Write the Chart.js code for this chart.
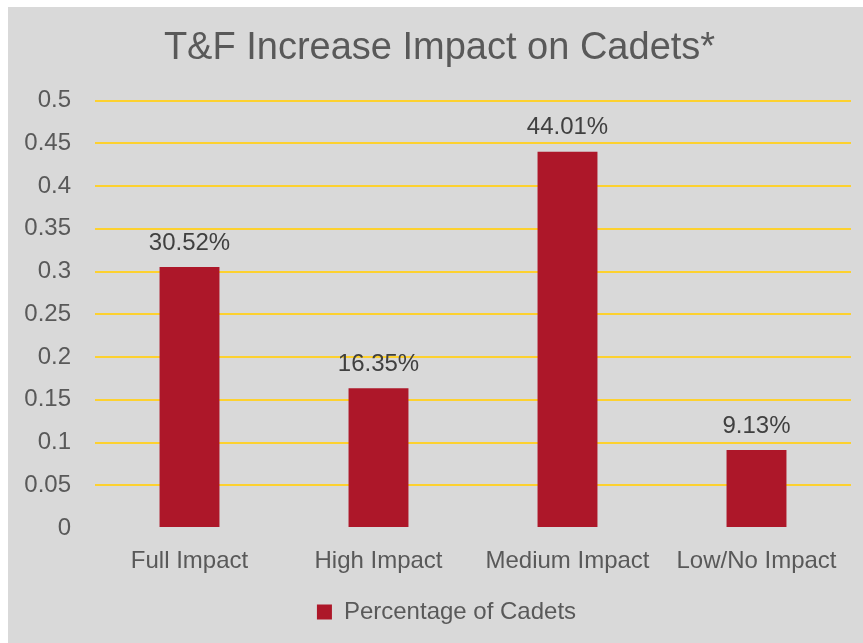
<!DOCTYPE html>
<html>
<head>
<meta charset="utf-8">
<script src="https://cdn.jsdelivr.net/npm/chart.js@4/dist/chart.umd.min.js"></script>
<style>
  html, body { margin: 0; padding: 0; background: #ffffff; }
  #box {
    position: absolute;
    left: 8px;
    top: 7px;
    width: 855px;
    height: 636px;
    background: #d9d9d9;
  }
</style>
</head>
<body>
<div id="box"><canvas id="chart-bars" width="855" height="636"></canvas></div>
<script>
// chart data
const categories = ["Full Impact", "High Impact", "Medium Impact", "Low/No Impact"];
const cadetShares = [0.3052, 0.1635, 0.4401, 0.0913];
const shareLabels = ["30.52%", "16.35%", "44.01%", "9.13%"];
const seriesName = "Percentage of Cadets";
const chartTitle = "T&F Increase Impact on Cadets*";

const baseFont = "'Liberation Sans', Arial, sans-serif";

// draws the value text above each bar
const barLabels = {
  id: "barLabels",
  afterDatasetsDraw(chart) {
    const ctx = chart.ctx;
    const meta = chart.getDatasetMeta(0);
    ctx.save();
    ctx.font = "24px " + baseFont;
    ctx.fillStyle = "#404040";
    ctx.textAlign = "center";
    ctx.textBaseline = "middle";
    meta.data.forEach((bar, i) => {
      ctx.fillText(shareLabels[i], bar.x, bar.y - 24);
    });
    ctx.restore();
  },
};

// title and legend sit a bit right of the canvas centre in the original
const nudgeBlocks = {
  id: "nudgeBlocks",
  afterLayout(chart) {
    chart.titleBlock.left += 20;
    chart.legend.left += 34;
  },
};

var ctx = document.getElementById("chart-bars").getContext("2d");
var chart1 = new Chart(ctx, {
  type: "bar",
  plugins: [barLabels, nudgeBlocks],
  data: {
    labels: categories,
    datasets: [
      {
        label: seriesName,
        data: cadetShares,
        backgroundColor: "#ad1729",
        borderWidth: 0,
        barPercentage: 0.317,
        categoryPercentage: 1,
      },
    ],
  },
  options: {
    responsive: false,
    animation: false,
    layout: {
      padding: { left: 0, right: 12, top: 0, bottom: 9 },
    },
    plugins: {
      title: {
        display: true,
        text: chartTitle,
        color: "#595959",
        font: { size: 38, family: baseFont, weight: "normal" },
        padding: { top: 19, bottom: 29 },
      },
      legend: {
        display: true,
        position: "bottom",
        labels: {
          boxWidth: 15,
          boxHeight: 15,
          padding: 10,
          color: "#595959",
          font: { size: 24, family: baseFont },
        },
      },
      tooltip: { enabled: false },
    },
    scales: {
      y: {
        min: 0,
        max: 0.5,
        afterFit(scale) {
          scale.width = 87;
        },
        border: { display: false },
        grid: {
          drawTicks: false,
          lineWidth: 2,
          color: (c) => (c.tick && c.tick.value === 0 ? "rgba(0,0,0,0)" : "#fdd12f"),
        },
        ticks: {
          stepSize: 0.05,
          padding: 24,
          color: "#595959",
          font: { size: 24, family: baseFont },
          callback: function (value) {
            return +value.toFixed(2);
          },
        },
      },
      x: {
        afterFit(scale) {
          scale.height = 62;
        },
        border: { display: false },
        grid: { display: false, drawTicks: false },
        ticks: {
          padding: 19,
          color: "#595959",
          maxRotation: 0,
          font: { size: 24, family: baseFont },
        },
      },
    },
  },
});
</script>
</body>
</html>
